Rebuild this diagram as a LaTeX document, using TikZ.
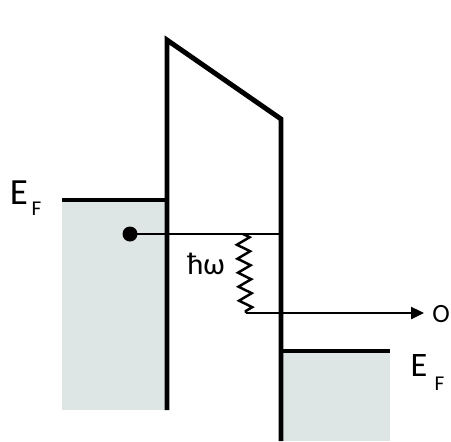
\documentclass[tikz,border=0pt]{standalone}
\usepackage{fontspec}
\setmainfont{Carlito}
\usetikzlibrary{arrows.meta,decorations.pathmorphing,positioning}

\definecolor{bandgray}{RGB}{222,229,229}

\tikzset{
    barrier/.style={line width=2.8pt},
    level/.style={line width=2.8pt},
    thin line/.style={line width=1.4pt},
    band/.style={fill=bandgray},
    label/.style={inner sep=0pt, anchor=center}
}

\begin{document}
\begin{tikzpicture}[x=0.02cm,y=-0.02cm]

    \useasboundingbox (0,0) rectangle (451,441);

    %\draw (0,0) grid[step=50] (451,441);

    \coordinate (LT) at (167,40);
    \coordinate (LB) at (167,410);
    \coordinate (RT) at (281,119);
    \coordinate (RB) at (281,441);

    \coordinate (EL) at (62,200);
    \coordinate (ELr) at (167,200);
    \coordinate (ER) at (390,351);
    \coordinate (ERl) at (281,351);

    \coordinate (W1) at (243,234);
    \coordinate (W2) at (246,313);
    \coordinate (Tip) at (424,313);
    \coordinate (Hend) at (283,234);

    % filled states
    \fill[band] (EL) rectangle (LB);
    \fill[band] (ERl) rectangle (ER |- RB);

    % barrier
    \draw[barrier, line join=miter] (LB) -- (LT) -- (RT) -- (RB);

    % Fermi levels
    \draw[level] (EL) -- (ELr);
    \draw[level] (ERl) -- (ER);

    % electron
    \node[circle, fill=black, inner sep=0pt, minimum size=0.3cm] (e) at (130,234) {};
    \draw[thin line] (e.center) -- (Hend);

    % photon
    \draw[thin line, decorate,
          decoration={zigzag, segment length=0.28cm, amplitude=0.13cm}] (W1) -- (W2);
    \draw[thin line, -{Triangle[length=0.26cm,width=0.24cm]}] (W2) -- (Tip);

    \node[label, font=\fontsize{17.5}{20}\selectfont] (hw) at (206,264) {ħω};
    \node[label, font=\fontsize{15}{17}\selectfont] (out) at (441,314) {O};

    \node[label, font=\fontsize{21}{24}\selectfont] (EFl) at (19,193) {E};
    \node[label, font=\fontsize{12}{14}\selectfont] (Fl) at (36.5,209) {F};
    \node[label, font=\fontsize{19.5}{22}\selectfont] (EFr) at (419,366) {E};
    \node[label, font=\fontsize{12}{14}\selectfont] (Fr) at (439.5,384) {F};

\end{tikzpicture}
\end{document}
